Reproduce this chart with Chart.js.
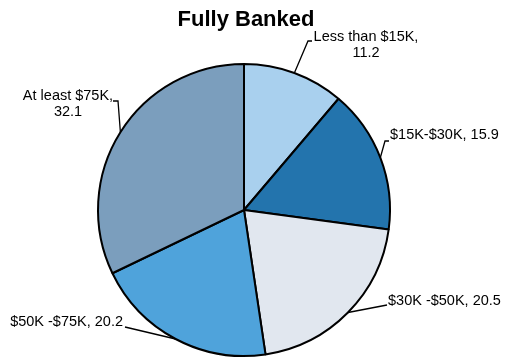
<!DOCTYPE html>
<html>
<head>
<meta charset="utf-8">
<script src="https://cdn.jsdelivr.net/npm/chart.js@4/dist/chart.umd.min.js"></script>
<style>
  html, body { margin: 0; padding: 0; background: #fff; }
  #wrap { width: 505px; height: 362px; }
</style>
</head>
<body>
<div id="wrap"><canvas id="pieChart" width="505" height="362"></canvas></div>
<script>
// Fully Banked pie

const categories = ['Less than $15K', '$15K-$30K', '$30K -$50K', '$50K -$75K', 'At least $75K'];
const shares = [11.2, 15.9, 20.5, 20.2, 32.1];
const sliceColors = ['#a9d0ee', '#2374ad', '#e1e7ef', '#4fa3db', '#7b9ebd'];

// label placement relative to pie centre: elbow of leader, text anchor, alignment, split into 2 lines
const labelSpots = [
    { elbow: [64, -169], tick: [68, -169], text: [122, -173], align: 'center', twoLines: true },
    { elbow: [141, -69], tick: [145, -69], text: [146, -75], align: 'left' },
    { elbow: [143, 95], tick: null, text: [144, 91], align: 'left' },
    { elbow: [-119, 117], tick: null, text: [-121, 112], align: 'right' },
    { elbow: [-126, -109], tick: [-131, -109], text: [-176, -114], align: 'center', twoLines: true }
];

const titlePlugin = {
    id: 'fixedTitle',
    afterDraw(chart) {
        const ctx = chart.ctx;
        ctx.save();
        ctx.font = 'bold 22px "Liberation Sans", Arial, sans-serif';
        ctx.fillStyle = '#000';
        ctx.textAlign = 'center';
        ctx.textBaseline = 'alphabetic';
        ctx.fillText('Fully Banked', 246, 26);
        ctx.restore();
    }
};

const leaderLabels = {
    id: 'leaderLabels',
    afterDatasetsDraw(chart) {
        const ctx = chart.ctx;
        const arcs = chart.getDatasetMeta(0).data;
        ctx.save();
        ctx.font = '14.5px "Liberation Sans", Arial, sans-serif';
        ctx.fillStyle = '#000';
        ctx.strokeStyle = '#000';
        ctx.lineWidth = 1.3;
        ctx.textBaseline = 'middle';
        arcs.forEach((arc, i) => {
            const spot = labelSpots[i];
            const cx = arc.x, cy = arc.y;
            const mid = (arc.startAngle + arc.endAngle) / 2;
            const ex = cx + Math.cos(mid) * arc.outerRadius;
            const ey = cy + Math.sin(mid) * arc.outerRadius;
            ctx.beginPath();
            ctx.moveTo(ex, ey);
            ctx.lineTo(cx + spot.elbow[0], cy + spot.elbow[1]);
            if (spot.tick) ctx.lineTo(cx + spot.tick[0], cy + spot.tick[1]);
            ctx.stroke();

            ctx.textAlign = spot.align;
            const tx = cx + spot.text[0], ty = cy + spot.text[1];
            const val = shares[i].toFixed(1);
            if (spot.twoLines) {
                ctx.fillText(categories[i] + ',', tx, ty);
                ctx.fillText(val, tx, ty + 16);
            } else {
                ctx.fillText(categories[i] + ', ' + val, tx, ty);
            }
        });
        ctx.restore();
    }
};

const ctx = document.getElementById('pieChart').getContext('2d');
const pieChart = new Chart(ctx, {
    type: 'pie',
    data: {
        labels: categories,
        datasets: [{
            data: shares,
            backgroundColor: sliceColors,
            borderColor: '#000',
            borderWidth: 2,
            hoverOffset: 0
        }]
    },
    options: {
        responsive: false,
        animation: false,
        layout: {
            padding: { top: 63, bottom: 5, left: 97, right: 114 }
        },
        plugins: {
            legend: { display: false },
            title: { display: false },
            tooltip: { enabled: false }
        }
    },
    plugins: [leaderLabels, titlePlugin]
});
</script>
</body>
</html>
